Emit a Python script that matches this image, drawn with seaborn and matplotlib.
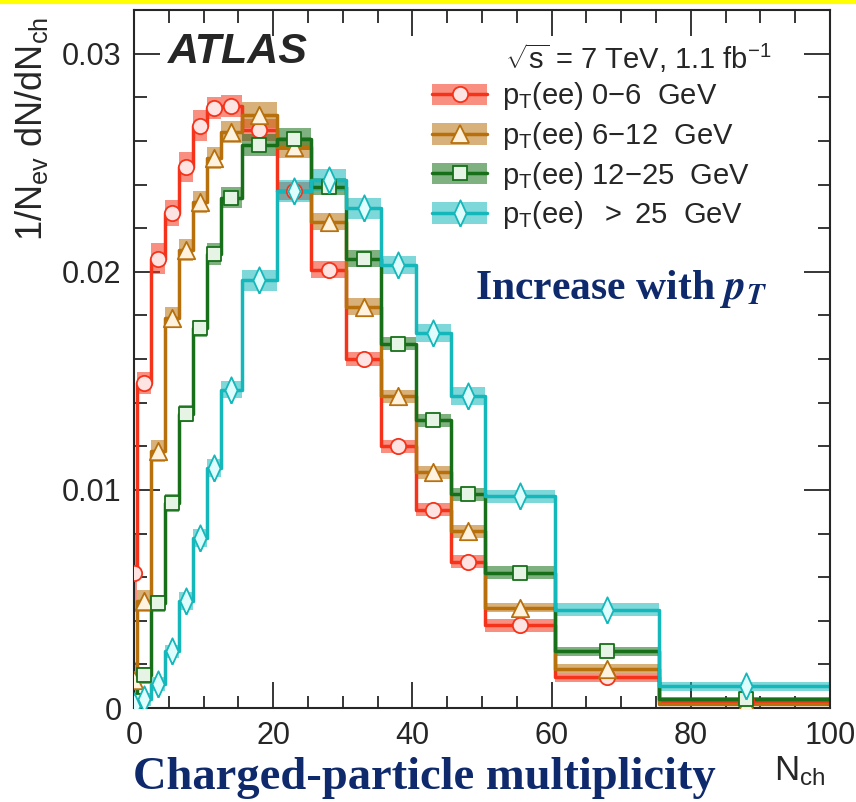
import numpy as np
import pandas as pd
import seaborn as sns
import matplotlib.pyplot as plt
from matplotlib.patches import Patch
from matplotlib.lines import Line2D
from matplotlib.ticker import MultipleLocator
from matplotlib.legend_handler import HandlerTuple

sns.set_style('ticks')
plt.rcParams['font.family'] = ['Liberation Sans', 'DejaVu Sans']
plt.rcParams['mathtext.fontset'] = 'custom'
plt.rcParams['mathtext.rm'] = 'Liberation Sans'
plt.rcParams['mathtext.it'] = 'Liberation Sans:italic'
plt.rcParams['mathtext.bf'] = 'Liberation Sans:bold'

# bin edges / centres of N_ch
edges = [-0.5, 0.5, 2.5, 4.5, 6.5, 8.5, 10.5, 12.5, 15.5, 20.5, 25.5, 30.5,
         35.5, 40.5, 45.5, 50.5, 60.5, 75.5, 100.5]
centers = [0, 1.5, 3.5, 5.5, 7.5, 9.5, 11.5, 14, 18, 23, 28, 33, 38, 43, 48,
           55.5, 68, 88]

# 1/Nev dN/dNch for each pT(ee) slice
pt_0_6 = [0.0062, 0.0149, 0.0206, 0.0227, 0.0248, 0.0267, 0.0275, 0.0276, 0.0265,
          0.0237, 0.0201, 0.0160, 0.0120, 0.0091, 0.0067, 0.0038, 0.0014, 0.0003]
pt_6_12 = [0.0013, 0.0049, 0.0118, 0.0179, 0.0210, 0.0232, 0.0252, 0.0264, 0.0272,
           0.0257, 0.0223, 0.0184, 0.0143, 0.0108, 0.0081, 0.0046, 0.0018, 0.0002]
pt_12_25 = [0.0003, 0.0015, 0.0048, 0.0094, 0.0135, 0.0174, 0.0208, 0.0234, 0.0258,
            0.0261, 0.0239, 0.0206, 0.0167, 0.0132, 0.0098, 0.0062, 0.0026, 0.0004]
pt_25 = [0.0001, 0.0004, 0.0011, 0.0026, 0.0049, 0.0078, 0.0110, 0.0146, 0.0196,
         0.0237, 0.0242, 0.0229, 0.0203, 0.0172, 0.0143, 0.0097, 0.0045, 0.0010]

# half widths of the uncertainty bands
err_0_6 = [0.0018, 0.0005, 0.0007, 0.0006, 0.0007, 0.0007, 0.0005, 0.0005, 0.0005,
           0.0004, 0.0004, 0.0003, 0.0003, 0.0003, 0.0003, 0.0003, 0.0002, 0.0001]
err_6_12 = [0.0008, 0.0005, 0.0005, 0.0005, 0.0005, 0.0005, 0.0005, 0.0005, 0.0006,
            0.0005, 0.0004, 0.0004, 0.0003, 0.0003, 0.0003, 0.0002, 0.0002, 0.0001]
err_12_25 = [0.0004, 0.0004, 0.0004, 0.0004, 0.0004, 0.0004, 0.0005, 0.0005, 0.0005,
             0.0005, 0.0004, 0.0004, 0.0003, 0.0003, 0.0003, 0.0003, 0.0002, 0.0001]
err_25 = [0.0002, 0.0003, 0.0003, 0.0003, 0.0004, 0.0004, 0.0004, 0.0004, 0.0005,
          0.0005, 0.0005, 0.0005, 0.0004, 0.0004, 0.0004, 0.0003, 0.0003, 0.0002]

labels = [r'p$_\mathrm{T}$(ee) 0$-$6  GeV', r'p$_\mathrm{T}$(ee) 6$-$12  GeV',
          r'p$_\mathrm{T}$(ee) 12$-$25  GeV', r'p$_\mathrm{T}$(ee)  $>$ 25  GeV']
series = [pt_0_6, pt_6_12, pt_12_25, pt_25]
errors = [err_0_6, err_6_12, err_12_25, err_25]
line_colors = ['#f5331a', '#b8700c', '#177019', '#14b7ba']
face_colors = ['#fde4e2', '#fff3e0', '#e6f4e6', '#e0fdfd']
thin_diamond = [(0, -1), (0.46, 0), (0, 1), (-0.46, 0), (0, -1)]
markers = ['o', '^', 's', thin_diamond]
msizes = [11, 12.5, 10.5, 19]

fig = plt.figure(figsize=(8.56, 8.02), dpi=100)
ax = fig.add_axes([134 / 856, 1 - 708 / 802, (830 - 134) / 856, (708 - 10) / 802])

handles = []
for vals, err, lc, fc, mk, ms in zip(series, errors, line_colors, face_colors,
                                     markers, msizes):
    v = np.array(vals)
    e = np.array(err)
    lo = np.append(v - e, (v - e)[-1])
    hi = np.append(v + e, (v + e)[-1])
    ax.fill_between(edges, lo, hi, step='post', color=lc, alpha=0.55, lw=0)
    step = pd.DataFrame({'x': edges, 'y': np.append(v, v[-1])})
    sns.lineplot(data=step, x='x', y='y', ax=ax, color=lc, lw=2.5,
                 drawstyle='steps-post', estimator=None, sort=False)
    pts = pd.DataFrame({'x': centers, 'y': vals})
    sns.scatterplot(data=pts, x='x', y='y', ax=ax, marker=mk, s=ms ** 2,
                    color=fc, edgecolor=lc, linewidth=1.3, zorder=5)
    handles.append((Patch(facecolor=lc, alpha=0.55, lw=0),
                    Line2D([], [], color=lc, lw=2.5, marker=mk, markersize=ms,
                           markerfacecolor=fc, markeredgecolor=lc, markeredgewidth=1.3)))

ax.set_xlim(0, 100)
ax.set_ylim(0, 0.032)
ax.xaxis.set_major_locator(MultipleLocator(20))
ax.xaxis.set_minor_locator(MultipleLocator(5))
ax.yaxis.set_minor_locator(MultipleLocator(0.002))
ax.set_yticks([0, 0.01, 0.02, 0.03])
ax.set_yticklabels(['0', '0.01', '0.02', '0.03'])
ax.tick_params(which='both', direction='in', top=True, right=True, labelsize=22,
               width=1.3, pad=9)
ax.tick_params(which='major', length=19)
ax.tick_params(which='minor', length=9)
for sp in ax.spines.values():
    sp.set_linewidth(1.5)

ax.set_xlabel(r'N$_\mathrm{ch}$', fontsize=25, loc='right')
ax.xaxis.set_label_coords(0.993, -0.066)
ax.set_ylabel(r'1/N$_\mathrm{ev}$ dN/dN$_\mathrm{ch}$', fontsize=26, loc='top')
ax.yaxis.set_label_coords(-0.12, 0.99)

ax.text(0.049, 0.94, 'ATLAS', transform=ax.transAxes, fontsize=31,
        fontweight='bold', fontstyle='italic', va='center', ha='left')
ax.text(0.533, 0.931, r'$\sqrt{\mathrm{s}}$ = 7 TeV, 1.1 fb$^{-1}$',
        transform=ax.transAxes, fontsize=21, va='center', ha='left')

ax.legend(handles, labels, loc='upper left', bbox_to_anchor=(0.428, 0.899),
          frameon=False, fontsize=21, handlelength=1.9, handleheight=0.75,
          handletextpad=0.5, labelspacing=0.26, borderpad=0, borderaxespad=0,
          numpoints=1, handler_map={tuple: HandlerTuple(ndivide=1, pad=0)})

ax.text(0.49, 0.60, r'Increase with $\mathbfit{p}_{\mathbfit{T}}$', transform=ax.transAxes,
        fontsize=30, fontweight='bold', family='Liberation Serif',
        math_fontfamily='stix', color='#0f2a6c', va='center', ha='left')

fig.text(133 / 856, 1 - 778 / 802, 'Charged-particle multiplicity', fontsize=33.5,
         fontweight='bold', family='Liberation Serif', color='#0f2a6c',
         va='center', ha='left')

fig.add_artist(Line2D([0, 1], [0.998, 0.998], color='#ffff00', lw=3,
                      transform=fig.transFigure))

fig.savefig('out.png', dpi=100)
